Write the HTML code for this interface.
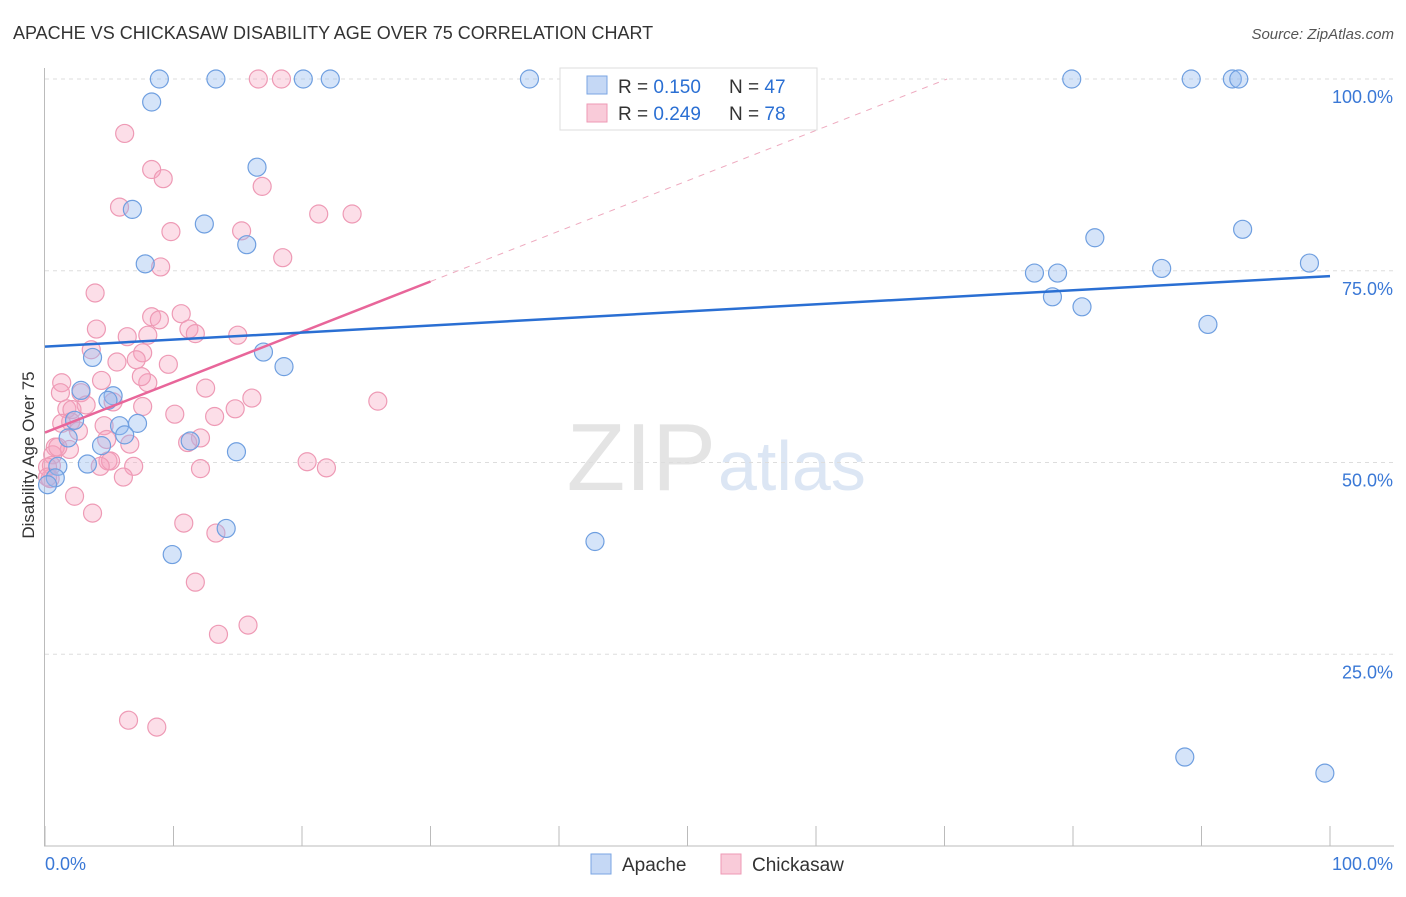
<!DOCTYPE html>
<html><head><meta charset="utf-8"><style>
body{margin:0;background:#fff;font-family:"Liberation Sans",sans-serif}
svg text{font-family:"Liberation Sans",sans-serif}
</style></head><body>
<svg id="c" width="1406" height="892" xmlns="http://www.w3.org/2000/svg">
<text x="13" y="39" font-size="18" fill="#333">APACHE VS CHICKASAW DISABILITY AGE OVER 75 CORRELATION CHART</text>
<text x="1394" y="39" font-size="15" fill="#555" text-anchor="end" font-style="italic">Source: ZipAtlas.com</text>
<text x="716" y="490" font-size="96" fill="#e4e4e4" text-anchor="end" font-family="Liberation Serif">ZIP</text>
<text x="718" y="490" font-size="70" fill="#dce6f4">atlas</text>
<text x="34" y="455" font-size="17" fill="#333" text-anchor="middle" transform="rotate(-90 34 455)">Disability Age Over 75</text>
<g id="grid"></g><g id="pts"></g><g id="lines"></g>
<g>
<rect x="560" y="68" width="257" height="62" fill="#fff" stroke="#ddd"/>
<rect x="587" y="76" width="20" height="18" fill="#c5d8f5" stroke="#7aa5e3"/>
<rect x="587" y="104" width="20" height="18" fill="#f9cbd9" stroke="#ee9ab5"/>
<text x="618" y="93" font-size="19" fill="#333">R = <tspan fill="#2a6fd3">0.150</tspan></text>
<text x="729" y="93" font-size="19" fill="#333">N = <tspan fill="#2a6fd3">47</tspan></text>
<text x="618" y="120" font-size="19" fill="#333">R = <tspan fill="#2a6fd3">0.249</tspan></text>
<text x="729" y="120" font-size="19" fill="#333">N = <tspan fill="#2a6fd3">78</tspan></text>
</g>
<g>
<rect x="591" y="854" width="20" height="20" fill="#c5d8f5" stroke="#7aa5e3"/>
<text x="622" y="871" font-size="19" fill="#333">Apache</text>
<rect x="721" y="854" width="20" height="20" fill="#f9cbd9" stroke="#ee9ab5"/>
<text x="752" y="871" font-size="19" fill="#333">Chickasaw</text>
</g>
</svg>
<script>
const yTicks=[100,75,50,25];
const yTickLabels=["100.0%","75.0%","50.0%","25.0%"];
const apacheX=[8.9,13.3,20.1,22.2,37.7,79.9,89.2,92.4,92.9,8.3,16.5,6.8,12.4,15.7,7.8,81.7,93.2,77.0,78.8,86.9,98.4,78.4,80.7,90.5,3.7,17.0,18.6,2.8,5.3,4.9,5.8,7.2,2.3,1.8,6.2,4.4,11.3,14.9,3.3,1.0,0.8,0.2,14.1,9.9,42.8,88.7,99.6];
const apacheY=[100,100,100,100,100,100,100,100,100,97.0,88.5,83.0,81.1,78.4,75.9,79.3,80.4,74.7,74.7,75.3,76.0,71.6,70.3,68.0,63.7,64.4,62.5,59.4,58.7,58.1,54.8,55.1,55.5,53.2,53.6,52.2,52.8,51.4,49.8,49.5,48.0,47.1,41.4,38.0,39.7,11.6,9.5];
const chickX=[16.6,18.4,6.2,8.3,9.2,16.9,5.8,21.3,23.9,9.8,15.3,9.0,18.5,3.9,8.3,10.6,8.9,4.0,11.2,11.7,15.0,6.4,8.0,3.6,7.6,5.6,7.1,9.6,1.3,4.4,8.0,7.5,12.5,2.8,16.1,25.9,5.3,3.2,1.7,2.1,7.6,14.8,10.1,13.2,2.0,1.3,4.6,2.6,12.1,11.1,4.8,6.6,1.9,0.8,0.6,4.9,5.1,20.4,4.3,6.9,21.9,12.1,0.5,6.1,0.4,2.3,3.7,10.8,13.3,11.7,13.5,15.8,6.5,8.7,1.2,0.2,0.2,1.0];
const chickY=[100,100,92.9,88.2,87.0,86.0,83.3,82.4,82.4,80.1,80.2,75.5,76.7,72.1,69.0,69.4,68.6,67.4,67.4,66.8,66.6,66.4,66.6,64.7,64.3,63.1,63.4,62.8,60.4,60.7,60.4,61.2,59.7,59.1,58.4,58.0,57.9,57.5,57.0,56.9,57.3,57.0,56.3,56.0,55.3,55.1,54.8,54.1,53.2,52.6,53.0,52.4,51.7,52.0,51.0,50.2,50.2,50.1,49.5,49.5,49.3,49.2,49.6,48.1,47.9,45.6,43.4,42.1,40.8,34.4,27.6,28.8,16.4,15.5,59.1,49.4,48.1,52.0];
const apacheFit=[65.1,74.3];
const chickFit=[53.9,73.6];
const X=v=>45+v*12.85, Y=v=>846-v*7.67;
const NS="http://www.w3.org/2000/svg";
function mk(t,a,p){const e=document.createElementNS(NS,t);for(const k in a)e.setAttribute(k,a[k]);p.appendChild(e);return e;}
const svg=document.getElementById('c'),g=document.getElementById('grid'),pg=document.getElementById('pts'),lg=document.getElementById('lines');
yTicks.forEach((t,i)=>{
 const l=mk('line',{x1:45,x2:1394,y1:Y(t),y2:Y(t),stroke:'#ddd','stroke-dasharray':'4,4'},g);
 
 
 const tx=mk('text',{x:1393,y:Y(t)+24,'font-size':18,fill:'#3a78d6','text-anchor':'end'},g);
 tx.textContent=yTickLabels[i];
 
 
});
mk('line',{x1:44.5,x2:44.5,y1:68,y2:846,stroke:'#bbb'},g);
mk('line',{x1:44,x2:1394,y1:846,y2:846,stroke:'#bbb'},g);
for(let i=0;i<=10;i++){const t=mk('line',{x1:X(i*10),x2:X(i*10),y1:826,y2:846,stroke:'#bbb'},g);
 
 }
const x0=mk('text',{x:45,y:870,'font-size':18,fill:'#3a78d6'},g);x0.textContent='0.0%';


const x1=mk('text',{x:1393,y:870,'font-size':18,fill:'#3a78d6','text-anchor':'end'},g);x1.textContent='100.0%';


chickX.forEach((v,i)=>{const c=mk('circle',{cx:X(v),cy:Y(chickY[i]),r:9,fill:'rgba(245,160,188,0.35)',stroke:'#ee9ab5','stroke-width':1.2},pg);
 
 });
apacheX.forEach((v,i)=>{const c=mk('circle',{cx:X(v),cy:Y(apacheY[i]),r:9,fill:'rgba(150,188,240,0.4)',stroke:'#6f9fe0','stroke-width':1.2},pg);
 
 });
const slope=(chickFit[1]-chickFit[0])/30;
const xe=(100-chickFit[0])/slope;
const d=mk('line',{x1:X(30),y1:Y(chickFit[1]),x2:X(xe),y2:Y(100),stroke:'#eeaabf','stroke-dasharray':'6,6'},lg);


const pl=mk('line',{x1:X(0),y1:Y(chickFit[0]),x2:X(30),y2:Y(chickFit[1]),stroke:'#e8669a','stroke-width':2.5},lg);


const bl=mk('line',{x1:X(0),y1:Y(apacheFit[0]),x2:X(100),y2:Y(apacheFit[1]),stroke:'#2a6fd3','stroke-width':2.5},lg);


</script>
</body></html>
